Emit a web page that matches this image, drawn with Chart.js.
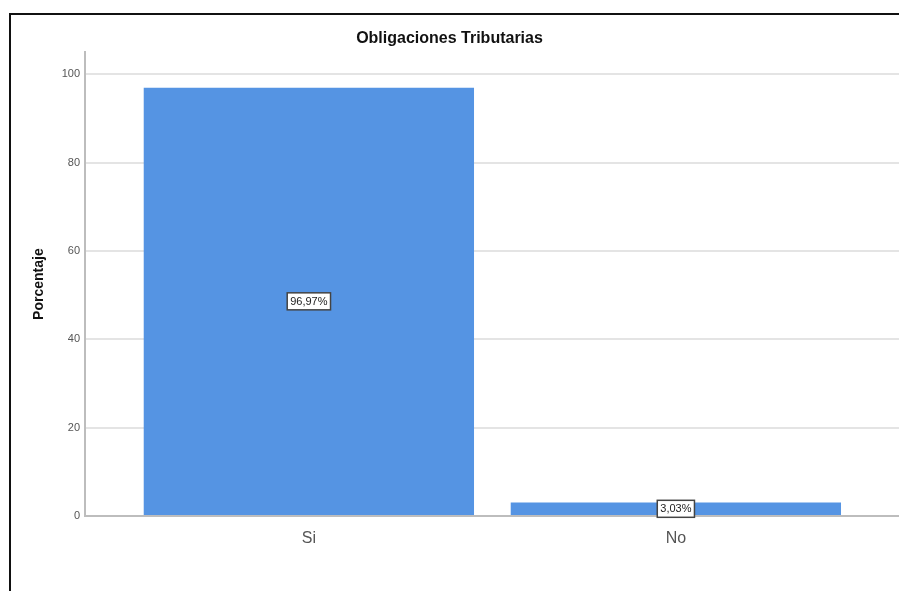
<!DOCTYPE html>
<html>
<head>
<meta charset="utf-8">
<script src="https://cdn.jsdelivr.net/npm/chart.js@4.4.1/dist/chart.umd.min.js"></script>
<style>
  html, body { margin: 0; padding: 0; background: #fff; }
  #wrap { position: relative; width: 899px; height: 591px; overflow: hidden; }
  #frame { position: absolute; left: 9px; top: 13px; right: -10px; bottom: -10px;
           border-top: 2px solid #111; border-left: 2px solid #111; pointer-events: none; }
  canvas { position: absolute; left: 0; top: 0; }
</style>
</head>
<body>
<div id="wrap">
  <canvas id="c" width="899" height="591"></canvas>
  <div id="frame"></div>
</div>
<script>
// Categories and percentages
const categories = ['Si', 'No'];
const percentages = [96.97, 3.03];
const valueLabels = ['96,97%', '3,03%'];
const yTicks = [0, 20, 40, 60, 80, 100];

const FONT = '"Liberation Sans", Arial, sans-serif';

// Boxed value label in the middle of each bar
const boxedLabels = {
  id: 'boxedLabels',
  afterDatasetsDraw(chart) {
    const ctx = chart.ctx;
    const meta = chart.getDatasetMeta(0);
    ctx.save();
    ctx.font = '11px ' + FONT;
    ctx.textAlign = 'center';
    ctx.textBaseline = 'middle';
    meta.data.forEach((bar, i) => {
      const text = valueLabels[i];
      const cx = bar.x;
      const cy = (bar.y + bar.base) / 2;
      const w = ctx.measureText(text).width + 6;
      const h = 17;
      ctx.fillStyle = '#ffffff';
      ctx.fillRect(cx - w / 2, cy - h / 2, w, h);
      ctx.strokeStyle = '#444';
      ctx.lineWidth = 1.5;
      ctx.strokeRect(cx - w / 2, cy - h / 2, w, h);
      ctx.fillStyle = '#222';
      ctx.fillText(text, cx, cy + 0.5);
    });
    ctx.restore();
  }
};

new Chart(document.getElementById('c'), {
  type: 'bar',
  data: {
    datasets: [{
      data: categories.map((c, i) => ({ x: i, y: percentages[i] })),
      backgroundColor: '#5594e3',
      borderWidth: 0,
      barPercentage: 0.9,
      categoryPercentage: 1.0
    }]
  },
  options: {
    responsive: false,
    animation: false,
    layout: { padding: { top: 0, left: 0, right: 0, bottom: 0 } },
    plugins: {
      legend: { display: false },
      tooltip: { enabled: false },
      title: {
        display: true,
        text: 'Obligaciones Tributarias',
        color: '#111',
        font: { family: FONT, size: 16, weight: 'bold' },
        padding: { top: 29, bottom: 4 }
      }
    },
    scales: {
      x: {
        type: 'linear',
        offset: false,
        min: -0.61,
        max: 1.608,
        afterBuildTicks: s => { s.ticks = categories.map((c, i) => ({ value: i })); },
        afterFit: s => { s.height = 75; },
        ticks: {
          callback: v => categories[v] ?? '',
          color: '#555',
          font: { family: FONT, size: 16 },
          padding: 13,
          maxRotation: 0
        },
        grid: { display: false, drawTicks: false },
        border: { display: true, color: '#bdbdbd', width: 2 }
      },
      y: {
        min: 0,
        max: 105,
        afterBuildTicks: s => { s.ticks = yTicks.map(v => ({ value: v })); },
        afterFit: s => { s.width = 85; },
        ticks: {
          color: '#555',
          font: { family: FONT, size: 11 },
          padding: 5
        },
        grid: { color: '#e4e4e4', lineWidth: 2, drawTicks: false },
        border: { display: true, color: '#bdbdbd', width: 2 },
        title: {
          display: true,
          text: 'Porcentaje',
          color: '#111',
          font: { family: FONT, size: 14, weight: 'bold' },
          padding: { top: 31, bottom: 0 }
        }
      }
    }
  },
  plugins: [boxedLabels]
});
</script>
</body>
</html>
